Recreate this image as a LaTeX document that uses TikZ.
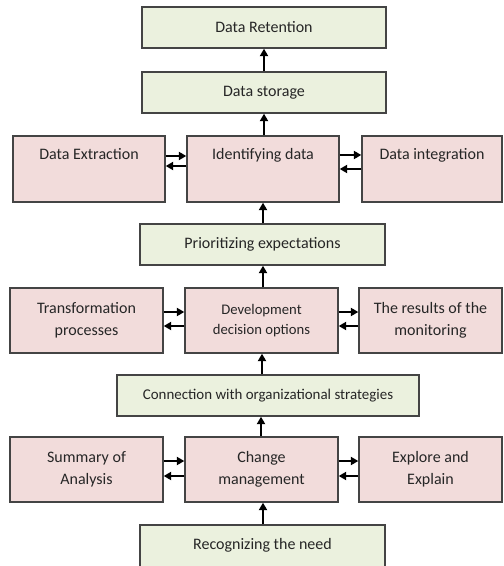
\documentclass[tikz,border=0pt]{standalone}
\usepackage{fontspec}
\setmainfont{Carlito}
\usetikzlibrary{arrows.meta}
\definecolor{gfill}{HTML}{EBF1DE}
\definecolor{pfill}{HTML}{F2DCDB}
\definecolor{bord}{HTML}{444444}
\definecolor{txt}{HTML}{262626}
\begin{document}
\begin{tikzpicture}[x=0.75pt,y=-0.75pt,
  tfont/.style={font=\fontsize{12}{16.5}\selectfont},
  box/.style={draw=bord, line width=1.1pt, inner sep=0pt, align=center, text=txt, tfont},
  gbox/.style={box, fill=gfill},
  pbox/.style={box, fill=pfill},
  arr/.style={line width=1.3pt, -{Triangle[length=5.5pt,width=6pt]}}]
\useasboundingbox (0,0) rectangle (503,566);
\clip (0,0) rectangle (503,566);
% boxes
\node[gbox, minimum width=183pt, minimum height=30.75pt] (ret) at (264,27.5) {Data Retention};
\node[gbox, minimum width=183pt, minimum height=30.75pt] (sto) at (264,92.5) {Data storage};
\node[pbox, minimum width=114pt, minimum height=49.5pt,
  label={[anchor=north, text=txt, tfont, yshift=-6.5pt]north:Data Extraction}] (ext) at (89,169) {};
\node[pbox, minimum width=114pt, minimum height=49.5pt,
  label={[anchor=north, text=txt, tfont, yshift=-6.5pt]north:Identifying data}] (idn) at (263,169) {};
\node[pbox, minimum width=105pt, minimum height=49.5pt,
  label={[anchor=north, text=txt, tfont, yshift=-6.5pt]north:Data integration}] (int) at (432,169) {};
\node[gbox, minimum width=183.75pt, minimum height=30.75pt] (pri) at (262.5,244.5) {Prioritizing expectations};
\node[pbox, minimum width=114.75pt, minimum height=48.75pt] (tra) at (86.5,320.5) {Transformation\\processes};
\node[pbox, minimum width=114.75pt, minimum height=48.75pt, font=\fontsize{11}{15}\selectfont] (dev) at (261.5,320.5) {Development\\decision options};
\node[pbox, minimum width=107.25pt, minimum height=48.75pt] (mon) at (430.5,320.5) {The results of the\\monitoring};
\node[gbox, minimum width=226.5pt, minimum height=30.75pt, font=\fontsize{11.2}{13}\selectfont] (con) at (268,395.5) {Connection with organizational strategies};
\node[pbox, minimum width=114.75pt, minimum height=48.75pt] (sum) at (86.5,469.5) {Summary of\\Analysis};
\node[pbox, minimum width=114.75pt, minimum height=48.75pt] (chg) at (261.5,469.5) {Change\\management};
\node[pbox, minimum width=107.25pt, minimum height=48.75pt] (exp) at (430.5,469.5) {Explore and\\Explain};
\node[gbox, minimum width=183.75pt, minimum height=33.75pt] (rec) at (262.5,547.5) {};
\node[text=txt, tfont] (rect) at (262.5,545.5) {Recognizing the need};
% vertical arrows
\draw[arr] (sto.north -| 264,0) -- (ret.south -| 264,0);
\draw[arr] (idn.north -| 264,0) -- (sto.south -| 264,0);
\draw[arr] (pri.north -| 263,0) -- (idn.south -| 263,0);
\draw[arr] (dev.north -| 263,0) -- (pri.south -| 263,0);
\draw[arr] (con.north -| 262,0) -- (dev.south -| 262,0);
\draw[arr] (chg.north -| 261,0) -- (con.south -| 261,0);
\draw[arr] (rec.north -| 263,0) -- (chg.south -| 263,0);
% horizontal pairs row 1
\draw[arr] (ext.east |- 0,156) -- (idn.west |- 0,156);
\draw[arr] (idn.west |- 0,166) -- (ext.east |- 0,166);
\draw[arr] (idn.east |- 0,155) -- (int.west |- 0,155);
\draw[arr] (int.west |- 0,169) -- (idn.east |- 0,169);
% row 2
\draw[arr] (tra.east |- 0,312) -- (dev.west |- 0,312);
\draw[arr] (dev.west |- 0,326) -- (tra.east |- 0,326);
\draw[arr] (dev.east |- 0,312) -- (mon.west |- 0,312);
\draw[arr] (mon.west |- 0,326) -- (dev.east |- 0,326);
% row 3
\draw[arr] (sum.east |- 0,461) -- (chg.west |- 0,461);
\draw[arr] (chg.west |- 0,476) -- (sum.east |- 0,476);
\draw[arr] (chg.east |- 0,461) -- (exp.west |- 0,461);
\draw[arr] (exp.west |- 0,476) -- (chg.east |- 0,476);
\end{tikzpicture}
\end{document}
